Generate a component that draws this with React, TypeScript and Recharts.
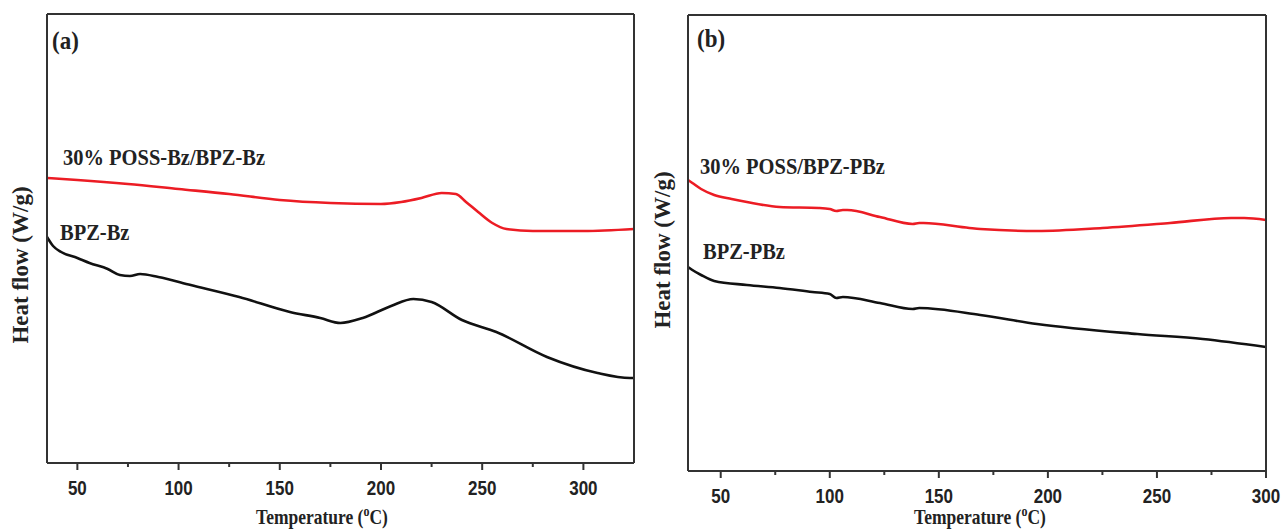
import { LineChart, Line, XAxis, YAxis } from "recharts";

// Panel (a): BPZ-Bz series, heat flow in arbitrary units (no y ticks on the plot)
const aTicks = [50, 75, 100, 125, 150, 175, 200, 225, 250, 275, 300];
const possBzTemp = [35, 50, 75, 100, 125, 150, 175, 200, 210, 220, 230, 237, 242, 248, 255, 262, 275, 300, 325];
const possBzFlow = [285, 283, 279, 274, 269, 263, 260, 259, 261, 265, 270, 269, 261, 251, 240, 234, 232, 232, 234];
const bzTemp = [35, 38, 42, 50, 56, 65, 71, 76, 81, 90, 106, 130, 155, 170, 180, 191, 205, 216, 225, 240, 257, 282, 307, 323, 325];
const bzFlow = [226, 217, 211, 205, 200, 194, 188, 187, 189, 186, 178, 166, 151, 145, 140, 145, 157, 164, 161, 143, 131, 106, 90, 85, 85];

// Panel (b): BPZ-PBz series
const bTicks = [50, 75, 100, 125, 150, 175, 200, 225, 250, 275, 300];
const possPbzTemp = [35, 37, 41, 47, 55, 62, 77, 95, 100, 103, 106, 108, 123, 138, 141, 143, 164, 169, 195, 225, 256, 284, 290, 300];
const possPbzFlow = [291, 288, 282, 276, 272, 269, 264, 263, 262, 260, 261, 261, 254, 247, 248, 248, 243, 242, 240, 243, 248, 253, 253, 251];
const pbzTemp = [35, 37, 41, 47, 62, 77, 92, 100, 103, 106, 123, 138, 141, 169, 195, 241, 271, 300];
const pbzFlow = [204, 201, 196, 190, 186, 183, 179, 177, 173, 174, 168, 162, 163, 156, 147, 137, 132, 124];

const RED = "#ec1c24";
const BLACK = "#111111";
const FRAME = "#333333";
const SERIF = "'Liberation Serif', 'Times New Roman', serif";
const SANS = "'Liberation Sans', Arial, sans-serif";

function toRows(temps: number[], flows: number[]) {
  return temps.map((t, i) => ({ t, v: flows[i] }));
}

function TempTick(props: any) {
  const { x, y, payload } = props;
  const major = payload.value % 50 === 0;
  return (
    <g>
      <line x1={x} y1={y} x2={x} y2={y + (major ? 7 : 4)} stroke={FRAME} strokeWidth={2} />
      {major && (
        <text
          transform={`translate(${x} ${y + 32}) scale(1 1.15)`}
          textAnchor="middle"
          fontFamily={SANS}
          fontWeight="bold"
          fontSize={17}
          fill="#222"
        >
          {payload.value}
        </text>
      )}
    </g>
  );
}

interface PanelProps {
  left: number;
  width: number;
  margin: { top: number; right: number; bottom: number; left: number };
  domain: [number, number];
  yMax: number;
  ticks: number[];
  upper: { t: number; v: number }[];
  lower: { t: number; v: number }[];
}

function Panel({ left, width, margin, domain, yMax, ticks, upper, lower }: PanelProps) {
  return (
    <div style={{ position: "absolute", left, top: 0 }}>
      <LineChart width={width} height={529} margin={margin}>
        <XAxis
          xAxisId="bottom"
          dataKey="t"
          type="number"
          domain={domain}
          ticks={ticks}
          interval={0}
          height={1}
          tickSize={0}
          tickMargin={0}
          tickLine={false}
          tick={<TempTick />}
          axisLine={{ stroke: FRAME, strokeWidth: 2 }}
          allowDataOverflow
        />
        <XAxis
          xAxisId="top"
          orientation="top"
          type="number"
          domain={domain}
          height={1}
          tick={false}
          tickLine={false}
          axisLine={{ stroke: FRAME, strokeWidth: 2 }}
          allowDataOverflow
        />
        <YAxis
          yAxisId="left"
          type="number"
          domain={[0, yMax]}
          width={1}
          tick={false}
          tickLine={false}
          axisLine={{ stroke: FRAME, strokeWidth: 2 }}
          allowDataOverflow
        />
        <YAxis
          yAxisId="right"
          orientation="right"
          type="number"
          domain={[0, yMax]}
          width={1}
          tick={false}
          tickLine={false}
          axisLine={{ stroke: FRAME, strokeWidth: 2 }}
        />
        <Line
          xAxisId="bottom"
          yAxisId="left"
          data={upper}
          dataKey="v"
          type="monotone"
          stroke={RED}
          strokeWidth={2.6}
          dot={false}
          isAnimationActive={false}
        />
        <Line
          xAxisId="bottom"
          yAxisId="left"
          data={lower}
          dataKey="v"
          type="monotone"
          stroke={BLACK}
          strokeWidth={2.6}
          dot={false}
          isAnimationActive={false}
        />
      </LineChart>
    </div>
  );
}

function AxisTitle({ x, y }: { x: number; y: number }) {
  return (
    <text
      transform={`translate(${x} ${y}) scale(1 1.15)`}
      textAnchor="middle"
      fontFamily={SERIF}
      fontWeight="bold"
      fontSize={17.5}
      fill="#222"
    >
      Temperature (
      <tspan dy={-7} fontSize={12}>o</tspan>
      <tspan dy={7}>C)</tspan>
    </text>
  );
}

function YTitle({ x, y }: { x: number; y: number }) {
  return (
    <text
      x={x}
      y={y}
      transform={`rotate(-90 ${x} ${y})`}
      textAnchor="middle"
      dominantBaseline="central"
      fontFamily={SERIF}
      fontWeight="bold"
      fontSize={23}
      fill="#222"
    >
      Heat flow (W/g)
    </text>
  );
}

function Note({ x, y, size, children }: { x: number; y: number; size: number; children: string }) {
  return (
    <text
      transform={`translate(${x} ${y}) scale(1 1.12)`}
      fontFamily={SERIF}
      fontWeight="bold"
      fontSize={size}
      fill="#222"
    >
      {children}
    </text>
  );
}

export default function App() {
  return (
    <div style={{ position: "absolute", left: 0, top: 0, width: 1283, height: 529, background: "#fff" }}>
      <Panel
        left={0}
        width={640}
        margin={{ top: 13, right: 5, bottom: 65, left: 46 }}
        domain={[35, 325]}
        yMax={449}
        ticks={aTicks}
        upper={toRows(possBzTemp, possBzFlow)}
        lower={toRows(bzTemp, bzFlow)}
      />
      <Panel
        left={640}
        width={643}
        margin={{ top: 14, right: 16, bottom: 57, left: 47 }}
        domain={[35, 300]}
        yMax={456}
        ticks={bTicks}
        upper={toRows(possPbzTemp, possPbzFlow)}
        lower={toRows(pbzTemp, pbzFlow)}
      />
      <svg width={1283} height={529} style={{ position: "absolute", left: 0, top: 0, pointerEvents: "none" }}>
        <Note x={52} y={49} size={23}>(a)</Note>
        <Note x={63} y={165} size={20.5}>30% POSS-Bz/BPZ-Bz</Note>
        <Note x={60} y={240} size={20.5}>BPZ-Bz</Note>
        <Note x={697} y={47} size={23}>(b)</Note>
        <Note x={700} y={174} size={20.5}>30% POSS/BPZ-PBz</Note>
        <Note x={703} y={259} size={20.5}>BPZ-PBz</Note>
        <YTitle x={20} y={265} />
        <YTitle x={662} y={250} />
        <AxisTitle x={322} y={524} />
        <AxisTitle x={980} y={524} />
      </svg>
    </div>
  );
}
